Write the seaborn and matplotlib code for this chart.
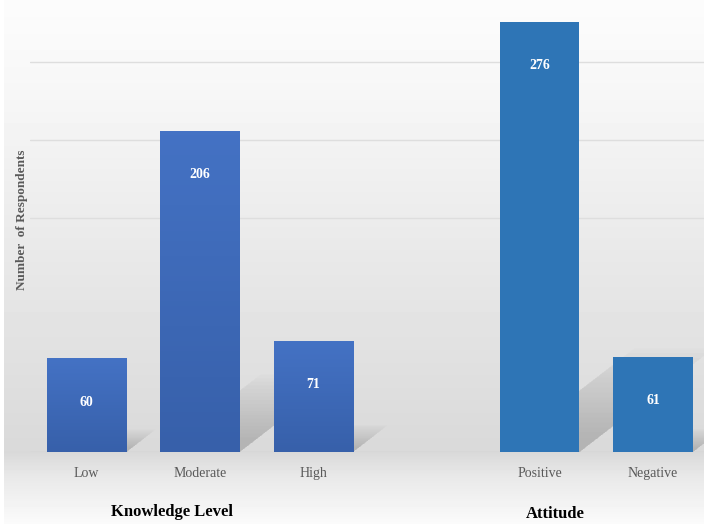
import numpy as np
import pandas as pd
import matplotlib.pyplot as plt
from matplotlib.patches import Polygon
from matplotlib.colors import LinearSegmentedColormap
import seaborn as sns

categories = ['Low', 'Moderate', 'High', 'Positive', 'Negative']
groups = ['Knowledge Level', 'Knowledge Level', 'Knowledge Level', 'Attitude', 'Attitude']
slots = [0, 1, 2, 4, 5]
respondents = [60, 206, 71, 276, 61]
group_titles = ['Knowledge Level', 'Attitude']
grid_values = [150, 200, 250]

sns.set_style('white')
plt.rcParams['font.family'] = ['Liberation Serif', 'DejaVu Serif']

df = pd.DataFrame({'slot': slots, 'category': categories,
                   'group': groups, 'n': respondents})

fig = plt.figure(figsize=(7.04, 5.24), dpi=100)
fig.patch.set_facecolor('white')

# gradient backdrop of the chart area
bg = fig.add_axes([4 / 704, 0, 700 / 704, 1], zorder=0)
rows = np.arange(524)
shade = np.interp(rows, [0, 100, 250, 452, 475, 524], [252, 246, 233, 217, 232, 251]) / 255
bg.imshow(np.repeat(shade[:, None], 2, axis=1), cmap='gray', vmin=0, vmax=1,
          aspect='auto', extent=[0, 1, 0, 1])
bg.set_axis_off()

ax = fig.add_axes([30 / 704, 72 / 524, 674 / 704, 452 / 524], zorder=1)
ax.patch.set_alpha(0)

# soft floor shadows behind each bar
for x, v in zip(slots, respondents):
    x0, x1 = x - 0.35, x + 0.35
    for s in np.linspace(1.05, 0.2, 18):
        dx, dy = v * 0.0041 * s, v * 0.23 * s
        ax.add_patch(Polygon([(x0, 0), (x1, 0), (x1 + dx, dy), (x0 + dx, dy)],
                             closed=True, facecolor='#808080', edgecolor='none',
                             alpha=0.025, zorder=0.5))

sns.barplot(data=df, x='slot', y='n', hue='group', native_scale=True,
            palette={'Knowledge Level': '#4472C4', 'Attitude': '#2E75B6'},
            width=0.7, dodge=False, legend=False, saturation=1, linewidth=0,
            ax=ax, zorder=2)

# vertical gradient on the knowledge bars
grad = np.linspace(0, 1, 64)[:, None]
kcmap = LinearSegmentedColormap.from_list('k', ['#4472C4', '#3760AA'])
for p in list(ax.patches):
    if isinstance(p, Polygon):
        continue
    if p.get_facecolor()[2] > 0.74:
        x, y = p.get_x(), p.get_y()
        w, h = p.get_width(), p.get_height()
        im = ax.imshow(grad, cmap=kcmap, aspect='auto',
                       extent=[x, x + w, y, y + h], zorder=2.1)
        im.set_clip_path(p)

for x, v in zip(slots, respondents):
    ax.text(x, v - 28, str(v), ha='center', va='center', color='white',
            fontsize=10, fontweight='bold', zorder=3)

for g in grid_values:
    ax.axhline(g, color='#dedede', lw=1, zorder=0.2)
ax.axhline(0, color='#d2d2d2', lw=1, zorder=0.2)

ax.set_xlim(-0.5, 5.45)
ax.set_ylim(0, 290)
ax.set_xticks(slots)
ax.set_xticklabels(categories, color='#595959', fontsize=10)
ax.tick_params(axis='x', length=0, pad=11)
ax.set_yticks([])
ax.set_xlabel('')
ax.set_ylabel('')
sns.despine(ax=ax, left=True, bottom=True)

fig.text(172 / 704, 1 - 512 / 524, group_titles[0], ha='center', va='center',
         fontsize=12, fontweight='bold', color='black')
fig.text(555 / 704, 1 - 514 / 524, group_titles[1], ha='center', va='center',
         fontsize=12, fontweight='bold', color='black')
fig.text(22 / 704, 1 - 220 / 524, 'Number  of Respondents', rotation=90,
         ha='center', va='center', fontsize=9.5, fontweight='bold', color='#595959')

fig.savefig('out.png', dpi=100)
